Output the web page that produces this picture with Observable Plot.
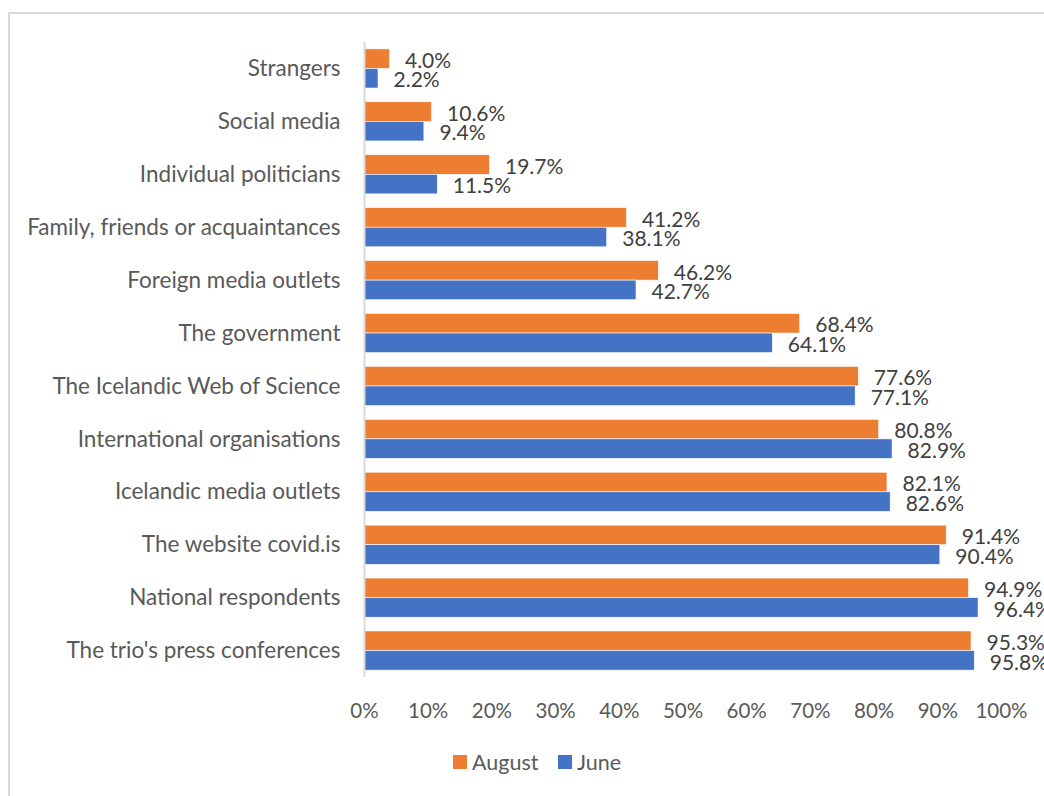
<!DOCTYPE html>
<html>
<head>
<meta charset="utf-8">
<script src="https://cdn.jsdelivr.net/npm/d3@7"></script>
<script src="https://cdn.jsdelivr.net/npm/@observablehq/plot@0.6"></script>
<style>
  html, body { margin: 0; padding: 0; background: #fff; overflow: hidden; }
  #wrap { position: relative; width: 1044px; height: 796px; overflow: hidden; font-family: Lato, "Open Sans", sans-serif; }
  #border { position: absolute; left: 8px; top: 12px; width: 1100px; height: 900px; border: 2px solid #d9d9d9; box-sizing: border-box; }
  #chart { position: absolute; left: 0; top: 0; }
  #legend { position: absolute; top: 751px; left: 0; width: 1044px; height: 22px; font-size: 21.5px; color: #595959; }
  .lg { position: absolute; top: 0; display: flex; align-items: center; height: 22px; }
  .sw { width: 14px; height: 14px; display: inline-block; margin-right: 5px; }
</style>
</head>
<body>
<div id="wrap">
  <div id="border"></div>
  <div id="chart"></div>
  <div id="legend"></div>
</div>
<script>
const categories = ["Strangers", "Social media", "Individual politicians", "Family, friends or acquaintances", "Foreign media outlets", "The government", "The Icelandic Web of Science", "International organisations", "Icelandic media outlets", "The website covid.is", "National respondents", "The trio's press conferences"];
const series = ["August", "June"];
const august = [4.0, 10.6, 19.7, 41.2, 46.2, 68.4, 77.6, 80.8, 82.1, 91.4, 94.9, 95.3];
const june = [2.2, 9.4, 11.5, 38.1, 42.7, 64.1, 77.1, 82.9, 82.6, 90.4, 96.4, 95.8];
const xTicks = [0, 10, 20, 30, 40, 50, 60, 70, 80, 90, 100];
const colors = ["#ED7D31", "#4472C4"];

const augRows = categories.map((c, i) => ({category: c, series: "August", value: august[i]}));
const junRows = categories.map((c, i) => ({category: c, series: "June", value: june[i]}));

// layout
const W = 1044, H = 740, MT = 42, MB = 63, PI = 0.26;
const step = (H - MT - MB) / categories.length;
const half = step * (1 - PI) / 2;

const chart = Plot.plot({
  width: W,
  height: H,
  marginLeft: 364,
  marginRight: 43,
  marginTop: MT,
  marginBottom: MB,
  style: {fontFamily: "Lato, 'Open Sans', sans-serif", fontSize: "20.5px", color: "#595959", background: "transparent"},
  x: {domain: [0, 100], ticks: xTicks, tickFormat: d => d + "%", tickSize: 0, tickPadding: 26, label: null},
  y: {domain: categories, paddingInner: PI, paddingOuter: PI / 2, align: 0.5, round: false, tickSize: 0, tickPadding: 24, label: null},
  marks: [
    Plot.barX(augRows, {y: "category", x: "value", fill: colors[0], stroke: "white", strokeWidth: 0.6, insetBottom: half}),
    Plot.barX(junRows, {y: "category", x: "value", fill: colors[1], stroke: "white", strokeWidth: 0.6, insetTop: half}),
    Plot.text(augRows, {y: "category", x: "value", text: d => d.value.toFixed(1) + "%", textAnchor: "start", dx: 15, dy: -half / 2 + 2, fill: "#404040", fontSize: 21}),
    Plot.text(junRows, {y: "category", x: "value", text: d => d.value.toFixed(1) + "%", textAnchor: "start", dx: 15, dy: half / 2 + 2, fill: "#404040", fontSize: 21}),
    Plot.ruleX([0], {stroke: "#d9d9d9", strokeWidth: 2})
  ]
});
chart.querySelectorAll('[aria-label="y-axis tick label"] text, [aria-label="y-axis"] text').forEach(t => t.setAttribute("font-size", "22.5"));
document.getElementById("chart").appendChild(chart);

const legend = document.getElementById("legend");
const lx = [453, 558];
series.forEach((s, i) => {
  const d = document.createElement("div");
  d.className = "lg";
  d.style.left = lx[i] + "px";
  d.innerHTML = `<span class="sw" style="background:${colors[i]}"></span><span>${s}</span>`;
  legend.appendChild(d);
});
</script>
</body>
</html>
